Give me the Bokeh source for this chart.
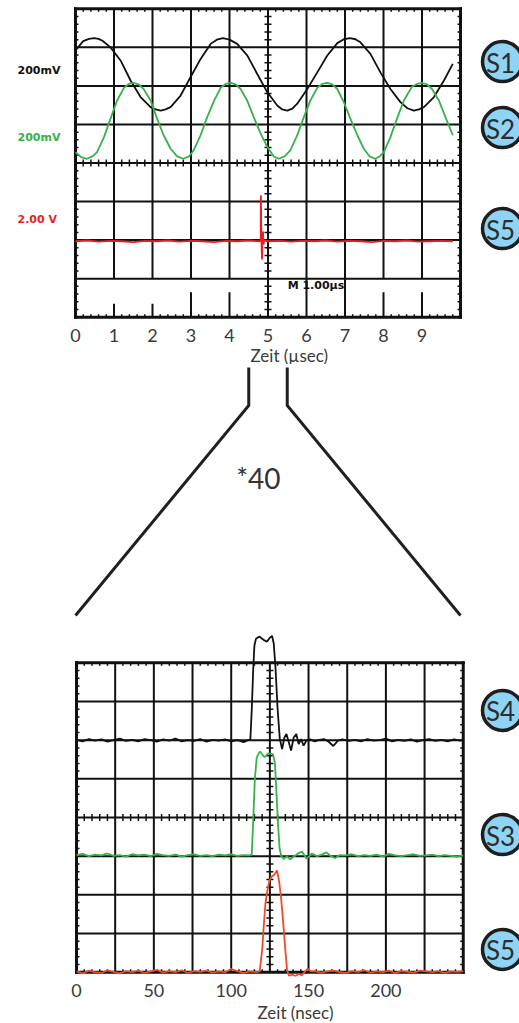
from bokeh.plotting import figure
from bokeh.layouts import column
from bokeh.models import Range1d, LinearAxis, FixedTicker, Title
from bokeh.core.properties import value
from bokeh.embed import file_html
from bokeh.resources import INLINE

# ---------------- data ----------------
# Upper screen: time in microseconds, amplitude in graticule divisions
s1_time_us = [0.0, 0.2, 0.35, 0.48, 0.6, 0.7, 0.91, 1.17, 1.43, 1.69, 1.95, 2.08, 2.21, 2.34,
              2.47, 2.73, 2.99, 3.25, 3.51, 3.67, 3.83, 4.0, 4.2, 4.46, 4.72, 4.98, 5.24, 5.37,
              5.5, 5.63, 5.76, 6.02, 6.28, 6.54, 6.8, 6.97, 7.13, 7.27, 7.4, 7.66, 7.92, 8.18,
              8.44, 8.62, 8.79, 8.92, 9.05, 9.31, 9.57, 9.8]
s1_div = [6.92, 7.16, 7.22, 7.24, 7.22, 7.17, 7.0, 6.66, 6.14, 5.71, 5.45, 5.39, 5.36, 5.39,
          5.45, 5.75, 6.23, 6.70, 7.09, 7.20, 7.24, 7.20, 7.09, 6.79, 6.31, 5.84, 5.49, 5.39,
          5.36, 5.41, 5.54, 5.92, 6.35, 6.79, 7.11, 7.21, 7.24, 7.21, 7.13, 6.83, 6.35, 5.92,
          5.58, 5.42, 5.36, 5.39, 5.45, 5.71, 6.14, 6.57]

s2_time_us = [0.0, 0.15, 0.3, 0.45, 0.56, 0.74, 0.91, 1.08, 1.26, 1.38, 1.51, 1.64, 1.77, 1.95,
              2.12, 2.29, 2.47, 2.64, 2.8, 2.95, 3.07, 3.25, 3.42, 3.6, 3.77, 3.9, 4.03, 4.16,
              4.29, 4.46, 4.63, 4.81, 4.98, 5.15, 5.28, 5.43, 5.58, 5.76, 5.93, 6.1, 6.28, 6.41,
              6.54, 6.67, 6.8, 6.97, 7.14, 7.32, 7.49, 7.64, 7.78, 7.9, 8.01, 8.18, 8.35, 8.53,
              8.74, 8.87, 9.0, 9.13, 9.26, 9.44, 9.61, 9.8]
s2_div = [4.28, 4.15, 4.11, 4.18, 4.28, 4.67, 5.15, 5.62, 5.95, 6.05, 6.08, 6.04, 5.92, 5.62,
          5.15, 4.72, 4.37, 4.17, 4.11, 4.17, 4.33, 4.72, 5.19, 5.62, 5.95, 6.05, 6.08, 6.04,
          5.92, 5.62, 5.19, 4.76, 4.42, 4.17, 4.11, 4.17, 4.33, 4.72, 5.19, 5.62, 5.95, 6.05,
          6.08, 6.04, 5.92, 5.58, 5.15, 4.72, 4.37, 4.17, 4.11, 4.17, 4.28, 4.67, 5.15, 5.62,
          5.98, 6.05, 6.08, 6.04, 5.92, 5.62, 5.19, 4.72]

s5_time_us = [0.0, 0.3, 0.6, 0.9, 1.2, 1.5, 1.8, 2.1, 2.4, 2.7, 3.0, 3.3, 3.6, 3.9, 4.2, 4.5,
              4.75, 4.81, 4.815, 4.83, 4.845, 4.855, 4.87, 4.885, 4.9, 5.0, 5.3, 5.6, 5.9, 6.2,
              6.5, 6.8, 7.1, 7.4, 7.7, 8.0, 8.3, 8.6, 8.9, 9.2, 9.5, 9.8]
s5_div = [1.97, 1.99, 1.96, 1.98, 1.97, 1.95, 1.98, 1.97, 1.99, 1.96, 1.98, 1.97, 1.95, 1.98,
          1.97, 1.99, 1.97, 1.98, 3.16, 1.98, 1.50, 2.02, 2.22, 1.88, 1.99, 1.97, 1.98, 1.96,
          1.98, 1.97, 1.99, 1.96, 1.98, 1.97, 1.95, 1.98, 1.97, 1.99, 1.96, 1.97, 1.98, 1.97]

upper_ticks_us = [0, 1, 2, 3, 4, 5, 6, 7, 8, 9]
channel_scales = ["200mV", "200mV", "2.00 V"]
timebase_label = "M 1.00µs"

# Lower screen (40x expanded): time in nanoseconds, amplitude in divisions
s4_time_ns = [0, 4, 8, 12, 16, 20, 24, 28, 32, 36, 40, 44, 48, 52, 56, 60, 64, 68, 72, 76, 80,
              84, 88, 92, 96, 100, 104, 108, 111.5,
              112.4, 113.3, 114.2, 115.0, 116.0, 117.5, 118.4, 120.0, 121.5, 123.2, 124.6, 126.4,
              127.5, 128.6, 130.0, 131.4, 132.9, 134.4, 135.7, 137.2, 138.7, 140.4, 142.1, 143.6,
              145.1, 146.8, 148.6,
              151, 154, 157, 160, 163, 166, 169, 172, 176, 180, 184, 188, 192, 196, 200, 204,
              208, 212, 216, 220, 224, 228, 232, 236, 240, 244, 248, 250]
s4_div = [6.01, 5.97, 6.03, 5.99, 6.02, 5.96, 6.00, 6.04, 5.98, 6.01, 5.97, 6.03, 6.00, 5.96,
          6.02, 5.99, 6.04, 5.97, 6.00, 5.98, 6.03, 5.96, 6.01, 5.99, 6.02, 5.97, 6.00, 5.95, 6.01,
          6.02, 6.8, 7.8, 8.45, 8.62, 8.66, 8.68, 8.62, 8.58, 8.55, 8.63, 8.70, 8.5, 7.9, 6.8,
          6.04, 5.77, 6.07, 6.16, 5.95, 5.73, 6.07, 6.16, 5.9, 6.03, 5.86, 5.99,
          6.02, 5.97, 6.01, 6.03, 5.96, 5.85, 5.99, 6.02, 5.98, 6.01, 5.97, 6.03, 5.99, 6.00,
          6.04, 5.97, 6.01, 5.98, 6.02, 5.96, 6.00, 6.03, 5.98, 6.01, 5.97, 6.02, 5.99, 6.00]

s3_time_ns = [0, 4, 8, 12, 16, 20, 24, 28, 32, 36, 40, 44, 48, 52, 56, 60, 64, 68, 72, 76, 80,
              84, 88, 92, 96, 100, 104, 108,
              112.0, 113.3, 114.3, 115.3, 116.5, 118.0, 118.9, 120.2, 121.6, 122.6, 123.8, 125.5,
              127.0, 128.3, 129.3, 130.3, 131.3, 132.4, 133.9, 136.0, 138.2, 140.0, 141.5, 143.5,
              145.8, 147.2, 148.6, 150.5, 152.3, 155.5, 158.5, 161.5, 164.5, 167.3, 170.0,
              174, 178, 182, 186, 190, 194, 198, 202, 206, 210, 214, 218, 222, 226, 230, 234,
              238, 242, 246, 250]
s3_div = [3.03, 3.06, 3.00, 3.04, 3.02, 3.07, 3.01, 3.03, 2.99, 3.05, 3.02, 3.04, 3.00, 3.06,
          3.03, 3.01, 3.04, 2.99, 3.03, 3.05, 3.01, 3.03, 3.00, 3.04, 3.02, 3.05, 3.01, 3.03,
          3.02, 3.05, 4.0, 5.0, 5.55, 5.68, 5.70, 5.62, 5.56, 5.60, 5.66, 5.65, 5.64, 5.40,
          4.60, 3.80, 3.20, 3.00, 2.93, 2.99, 2.92, 2.98, 3.02, 3.08, 3.12, 3.03, 2.94, 3.00,
          3.07, 3.00, 3.04, 3.10, 3.00, 2.95, 3.03,
          3.02, 3.05, 3.00, 3.03, 3.01, 3.04, 2.99, 3.06, 3.02, 3.00, 3.03, 3.05, 3.01, 3.02,
          3.04, 3.00, 3.03, 3.01, 2.99, 3.02]

s5z_time_ns = [0, 4, 8, 12, 16, 20, 24, 28, 32, 36, 40, 44, 48, 52, 56, 60, 64, 68, 72, 76, 80,
               84, 88, 92, 96, 100, 104, 108, 112, 116,
               118.4, 120.0, 121.0, 122.1, 123.2, 124.7, 126.4, 127.9, 129.6, 130.9, 132.2,
               133.5, 135.0, 136.1, 137.5, 139.5, 141.5, 143.5, 145.5, 147.5, 149.5, 151.5,
               154, 158, 162, 166, 170, 174, 178, 182, 186, 190, 194, 198, 202, 206, 210, 214,
               218, 222, 226, 230, 234, 238, 242, 246, 250]
s5z_div = [0.02, -0.03, 0.04, 0.00, -0.02, 0.05, 0.01, -0.03, 0.03, 0.00, 0.04, -0.02, 0.02,
           0.06, -0.01, 0.03, 0.00, 0.05, -0.02, 0.03, 0.01, 0.04, -0.01, 0.02, 0.00, 0.08,
           0.03, -0.02, 0.02, 0.00,
           0.02, 0.57, 1.17, 1.77, 2.07, 2.37, 2.48, 2.52, 2.63, 2.37, 1.94, 1.34, 0.57, 0.05,
           -0.10, -0.06, -0.11, -0.04, -0.08, 0.01, 0.09, 0.02,
           0.03, -0.01, 0.02, 0.04, 0.00, -0.02, 0.03, 0.01, 0.05, -0.01, 0.02, 0.00, 0.04,
           -0.02, 0.03, 0.01, -0.01, 0.04, 0.02, 0.00, 0.03, -0.02, 0.02, 0.01, 0.03]

lower_ticks_ns = [0, 50, 100, 150, 200]
zoom_label = "*40"
zoom_window_us = [4.5, 5.5]

upper_badges = ["S1", "S2", "S5"]
lower_badges = ["S4", "S3", "S5"]

# ---------------- layout / style ----------------
WIDTH = 519
INK = "#111111"
TXT = "#3a3a3a"
GREEN = "#35b24a"
RED_UP = "#ec1c24"
RED_LO = "#ef4a2a"
BADGE_FILL = "#8fd4f4"

N_X, N_Y = 10, 8

# upper screen geometry (pixels)
UP_H, UP_FRAME_H = 364, 322
UP_LEFT, UP_PX_X, UP_BOTTOM, UP_PX_Y = 75.0, 38.5, 316.7, 38.55
# lower screen geometry (pixels, relative to its own figure)
LO_H, LO_FRAME_H = 403, 356
LO_LEFT, LO_PX_X, LO_BOTTOM, LO_PX_Y = 76.0, 1.547, 351.7, 38.67
MID_H = 1023 - UP_H - LO_H


def make_fig(h, xr, yr, bottom=0):
    p = figure(width=WIDTH, height=h, x_range=xr, y_range=yr,
               output_backend="svg", toolbar_location=None,
               x_axis_location=None, y_axis_location=None,
               min_border_left=0, min_border_right=0, min_border_top=0,
               min_border_bottom=bottom, outline_line_color=None,
               background_fill_color="white", border_fill_color="white")
    p.grid.visible = False
    return p


def graticule(p, x_div, px_x, px_y, short_lines=None):
    """Oscilloscope graticule: 10 x 8 divisions with minor marks."""
    short_lines = short_lines or {}
    x_end = N_X * x_div
    x0, y0, x1, y1 = [], [], [], []
    for i in range(1, N_X):
        xv = i * x_div
        h = short_lines.get(i)
        spans = [(0, N_Y)] if h is None else [(0, h), (1, N_Y)]
        for a, b in spans:
            x0.append(xv); x1.append(xv); y0.append(a); y1.append(b)
    for j in range(1, N_Y):
        x0.append(0); x1.append(x_end); y0.append(j); y1.append(j)
    p.segment(x0, y0, x1, y1, line_color=INK, line_width=2)

    # minor marks
    tx0, ty0, tx1, ty1 = [], [], [], []
    edge = 3.0
    cross = 3.5
    xc, yc = N_X / 2 * x_div, N_Y / 2
    for k in range(1, N_X * 5):
        if k % 5 == 0:
            continue
        xv = k * x_div / 5
        tx0 += [xv, xv, xv]
        tx1 += [xv, xv, xv]
        ty0 += [N_Y, 0, yc - cross / px_y]
        ty1 += [N_Y - edge / px_y, edge / px_y, yc + cross / px_y]
    for k in range(1, N_Y * 5):
        if k % 5 == 0:
            continue
        yv = k / 5
        ty0 += [yv, yv, yv]
        ty1 += [yv, yv, yv]
        tx0 += [0, x_end, xc - cross / px_x]
        tx1 += [edge / px_x, x_end - edge / px_x, xc + cross / px_x]
    p.segment(tx0, ty0, tx1, ty1, line_color=INK, line_width=1.5)

    # outer frame
    p.segment([0, x_end, x_end, 0], [0, 0, N_Y, N_Y],
              [x_end, x_end, 0, 0], [0, N_Y, N_Y, 0],
              line_color=INK, line_width=3, line_cap="square")


def badges(p, xs, ys, labels):
    p.scatter(xs, ys, marker="circle", size=40, fill_color=BADGE_FILL,
              line_color="#1e1e1e", line_width=3.5)
    p.text(xs, ys, text=labels, text_align="center", text_baseline="middle",
           text_font=value("Lato"), text_font_size="26px", text_color="#2e2e2e",
           x_offset=-2, y_offset=1)


def time_axis(p, ticks, title, offset, standoff, title_standoff):
    ax = LinearAxis(ticker=FixedTicker(ticks=ticks), axis_line_color=None,
                    major_tick_line_color=None, minor_tick_line_color=None,
                    major_tick_in=0, major_tick_out=0, minor_tick_in=0, minor_tick_out=0,
                    major_label_standoff=standoff,
                    major_label_text_font="Lato", major_label_text_font_size="18px",
                    major_label_text_color=TXT)
    p.add_layout(ax, "below")
    p.add_layout(Title(text=title, align="left", offset=offset, standoff=title_standoff,
                       text_font="Lato", text_font_size="17px",
                       text_font_style="normal", text_color=TXT), "below")


# ---------------- upper screen ----------------
up_x = Range1d(-UP_LEFT / UP_PX_X, (WIDTH - UP_LEFT) / UP_PX_X)
up_y = Range1d((UP_BOTTOM - UP_FRAME_H) / UP_PX_Y, UP_BOTTOM / UP_PX_Y)
up = make_fig(UP_H, up_x, up_y, bottom=UP_H - UP_FRAME_H)
graticule(up, 1.0, UP_PX_X, UP_PX_Y,
          short_lines={1: 0.35, 2: 0.35, 3: 0.65, 4: 0.65, 8: 0.65, 9: 0.65})
up.line(s1_time_us, s1_div, line_color=INK, line_width=1.8)
up.line(s2_time_us, s2_div, line_color=GREEN, line_width=1.8)
up.line(s5_time_us, s5_div, line_color=RED_UP, line_width=1.8)

label_x = (17 - UP_LEFT) / UP_PX_X
up.text([label_x] * 3, [6.4, 4.67, 2.53], text=channel_scales,
        text_color=[INK, GREEN, RED_UP], text_align="left", text_baseline="middle",
        text_font=value("DejaVu Sans"), text_font_style="bold", text_font_size="11px")
up.text([5.51], [0.82], text=[timebase_label], text_color=INK, text_align="left",
        text_baseline="middle", text_font=value("DejaVu Sans"), text_font_style="bold",
        text_font_size="11px")
badges(up, [(502 - UP_LEFT) / UP_PX_X] * 3, [6.63, 4.92, 2.30], upper_badges)
time_axis(up, upper_ticks_us, "Zeit (µsec)", 250, 6, -4)

# ---------------- zoom connector ----------------
mid = make_fig(MID_H, up_x, Range1d(MID_H, 0))
left_x = [zoom_window_us[0], zoom_window_us[0], 0]
right_x = [zoom_window_us[1], zoom_window_us[1], N_X]
conn_y = [3, 41, 251]
mid.multi_line([left_x, right_x], [conn_y, conn_y], line_color="#231f20",
               line_width=3, line_join="miter")
mid.text([4.75], [113], text=[zoom_label], text_align="center", text_baseline="middle",
         text_font=value("Lato"), text_font_size="28px", text_color="#333333")

# ---------------- lower screen ----------------
lo_x = Range1d(-LO_LEFT / LO_PX_X, (WIDTH - LO_LEFT) / LO_PX_X)
lo_y = Range1d((LO_BOTTOM - LO_FRAME_H) / LO_PX_Y, LO_BOTTOM / LO_PX_Y)
lo = make_fig(LO_H, lo_x, lo_y, bottom=LO_H - LO_FRAME_H)
graticule(lo, 25.0, LO_PX_X, LO_PX_Y)
lo.line(s4_time_ns, s4_div, line_color=INK, line_width=1.8)
lo.line(s3_time_ns, s3_div, line_color=GREEN, line_width=1.8)
lo.line(s5z_time_ns, s5z_div, line_color=RED_LO, line_width=1.8)
badges(lo, [(502 - LO_LEFT) / LO_PX_X] * 3, [6.77, 3.56, 0.59], lower_badges)
time_axis(lo, lower_ticks_ns, "Zeit (nsec)", 257, 7, 0)

layout = column(up, mid, lo, spacing=0)
open("out.html", "w").write(file_html(layout, INLINE))
